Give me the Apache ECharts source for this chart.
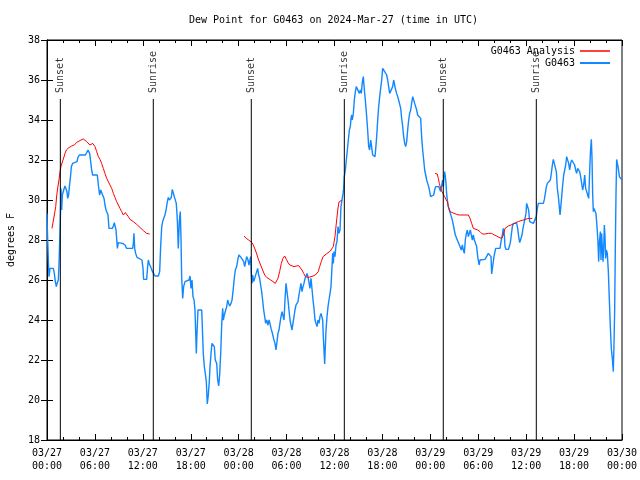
<!DOCTYPE html>
<html><head><meta charset="utf-8">
<script src="https://cdn.jsdelivr.net/npm/echarts@6/dist/echarts.min.js"></script>
<style>html,body{margin:0;padding:0;background:#fff}#c{width:640px;height:480px}</style>
</head><body><div id="c"></div>
<script>
// Hours since 2024-03-27 00:00 UTC
const obsHours = [
0.00,0.04,0.17,0.25,0.38,0.79,0.92,1.04,1.17,1.29,1.42,1.50,1.59,1.67,1.75,1.84,1.92,2.09,2.25,2.38,2.50,2.59,2.71,2.80,2.92,3.05,3.21,3.38,3.76,3.88,4.05,4.80,4.97,5.13,5.26,5.34,5.47,5.59,5.72,6.30,6.43,6.59,6.72,6.84,6.97,7.14,7.26,7.39,7.51,7.64,7.76,8.18,8.31,8.43,8.56,8.64,8.72,8.81,8.93,9.47,9.77,9.97,10.73,10.81,10.89,10.98,11.10,11.27,11.44,11.89,12.02,12.10,12.48,12.60,12.69,12.81,12.98,13.15,13.36,13.52,13.94,14.11,14.23,14.36,14.48,14.61,14.77,14.94,15.07,15.19,15.32,15.44,15.57,15.69,15.82,15.94,16.07,16.19,16.32,16.44,16.57,16.69,16.78,16.86,16.99,17.11,17.28,17.49,17.78,
17.91,18.03,18.16,18.28,18.41,18.53,18.62,18.70,18.78,18.91,19.37,19.45,19.57,19.70,19.82,19.95,20.07,20.20,20.32,20.41,20.54,20.66,20.82,20.95,21.07,21.25,21.37,21.50,21.63,21.75,21.88,22.00,22.08,22.20,22.38,22.50,22.63,22.75,22.88,23.04,23.17,23.33,23.45,23.58,23.75,23.92,
24.04,24.25,24.38,24.50,24.63,24.75,24.88,25.00,25.17,25.29,25.42,25.50,25.59,25.67,25.75,25.88,26.00,26.25,26.38,26.50,26.63,26.75,26.88,27.00,27.13,27.26,27.38,27.51,27.67,27.80,27.92,28.05,28.17,28.30,28.42,28.55,28.67,28.80,28.92,29.05,29.17,29.30,29.43,29.55,29.68,29.80,29.93,30.05,30.18,30.30,30.43,30.55,30.68,30.80,30.93,31.05,31.18,31.43,31.55,31.68,31.80,31.93,32.06,32.18,32.31,32.43,32.56,32.68,32.81,32.93,33.06,33.18,33.31,33.43,33.56,33.68,33.81,33.93,34.06,34.18,34.31,34.43,34.52,34.60,34.68,34.77,34.85,34.94,35.06,35.19,35.31,35.44,35.56,35.69,
35.77,35.85,35.94,36.06,36.19,36.31,36.44,36.56,36.69,36.81,36.94,37.07,37.15,37.23,37.36,37.48,37.61,37.73,37.86,37.98,38.07,38.15,38.23,38.36,38.48,38.61,38.73,38.86,38.98,39.11,39.24,39.36,39.49,39.61,39.74,39.86,40.03,40.15,40.28,40.40,40.53,40.65,40.78,40.90,41.07,41.15,41.28,41.41,41.53,41.66,41.78,41.91,42.03,42.16,42.28,42.41,42.53,42.66,42.78,42.91,43.16,43.28,43.41,43.53,43.66,43.78,43.91,44.03,44.16,44.29,44.41,44.54,44.66,44.79,44.91,45.04,45.16,45.29,45.41,45.54,45.66,45.79,45.91,46.04,46.16,46.29,46.41,46.54,46.66,46.79,46.91,47.04,47.17,47.29,47.42,47.54,47.67,47.79,47.92,48.04,48.17,48.29,48.42,48.54,48.67,48.79,48.92,49.04,49.17,49.29,49.42,49.54,49.63,49.71,49.79,49.88,49.96,50.04,50.13,50.25,50.38,50.50,50.63,50.75,50.88,51.00,51.13,51.26,51.38,51.51,51.63,51.76,51.88,52.01,52.13,52.26,52.38,52.51,52.63,52.76,52.88,53.01,53.13,53.26,53.38,53.51,
53.59,53.80,53.93,54.10,54.22,54.43,54.85,55.26,55.47,55.60,55.68,55.89,55.97,56.18,56.72,56.85,56.98,57.14,57.27,57.35,57.48,57.77,57.89,58.02,58.14,58.27,58.39,58.81,58.94,59.06,59.19,59.35,59.48,59.60,59.73,59.86,59.98,60.06,60.19,60.31,60.44,60.56,60.90,61.02,61.15,61.27,61.40,61.52,62.15,62.28,62.40,62.53,62.65,62.78,62.90,63.03,63.15,63.28,63.40,63.53,63.65,63.78,63.90,64.03,64.15,64.24,64.32,64.45,64.57,64.70,64.82,64.95,65.07,65.20,65.32,65.45,65.57,65.70,65.82,65.95,66.07,66.20,66.32,66.45,66.57,66.70,66.82,66.95,67.07,67.20,67.33,67.45,67.58,67.70,67.83,67.95,68.04,68.16,68.24,68.33,68.41,68.49,68.62,68.74,68.87,68.99,69.08,69.16,69.29,69.37,69.45,69.54,69.62,69.70,69.79,69.87,69.95,70.04,70.16,70.29,70.41,70.54,70.66,70.79,70.91,71.00,71.08,71.17,71.25,71.33,71.42,71.54,71.67,71.79,72.00
];
const obsValues = [
29.33,28.58,27.0,26.17,26.58,26.58,26.33,25.92,25.67,25.87,26.0,26.75,27.92,29.0,30.58,29.5,30.25,30.5,30.7,30.75,30.42,30.08,30.25,30.67,31.08,31.67,31.83,31.92,31.92,32.13,32.25,32.25,32.37,32.5,32.53,32.33,31.92,31.5,31.25,31.25,30.75,30.25,30.5,30.58,30.42,30.08,29.75,29.5,29.58,29.25,28.58,28.58,28.7,28.87,28.8,28.5,28.08,27.58,27.87,27.83,27.75,27.58,27.58,27.83,28.33,27.58,27.33,27.13,27.03,27.0,26.58,26.03,26.03,26.67,27.0,26.8,26.67,26.47,26.37,26.2,26.2,26.42,27.67,28.63,28.92,29.08,29.25,29.58,29.92,30.13,30.0,29.92,30.13,30.53,30.45,30.17,30.07,29.83,29.0,27.58,28.92,29.42,28.08,26.17,25.08,25.67,25.92,25.98,26.0,
26.2,25.58,26.0,25.17,25.0,24.5,23.33,22.33,23.33,24.5,24.5,23.67,22.33,21.67,21.33,20.92,19.8,20.25,20.92,21.67,22.33,22.83,22.92,22.67,22.0,21.83,21.0,20.7,21.33,22.33,23.83,24.58,24.0,24.25,24.5,24.67,25.0,24.83,24.7,24.83,25.0,25.58,26.08,26.5,26.67,27.08,
27.25,27.25,27.08,27.17,26.92,26.67,26.92,27.17,27.0,26.75,26.83,27.17,26.33,25.83,26.25,25.92,26.08,26.17,26.58,26.25,26.08,25.75,25.42,25.0,24.5,24.17,23.83,24.0,23.75,24.0,23.83,23.58,23.42,23.33,23.0,22.83,22.5,22.92,23.33,23.5,23.83,24.17,24.42,24.33,24.0,25.0,25.83,25.42,25.0,24.5,24.0,23.75,23.5,23.83,24.17,24.5,24.75,24.92,25.25,25.33,25.83,25.42,25.67,25.83,26.08,26.0,26.33,26.17,26.08,25.58,26.08,26.0,25.0,24.58,24.0,23.83,23.67,24.0,23.83,24.17,24.33,24.42,24.0,23.17,22.5,21.8,22.67,23.5,24.17,24.67,25.0,25.33,25.67,26.67,
27.33,26.83,27.42,27.17,27.75,27.92,28.67,28.33,28.5,29.67,30.0,30.33,30.58,31.17,31.5,32.0,32.5,33.0,33.5,33.67,34.08,34.25,34.0,34.33,35.0,35.42,35.67,35.75,35.58,35.33,35.5,35.33,35.92,36.17,35.5,35.0,34.17,33.5,32.67,32.5,33.0,32.67,32.25,32.17,32.17,32.5,33.17,34.0,34.67,35.17,35.58,36.0,36.58,36.63,36.42,36.33,36.25,36.0,35.67,35.33,35.33,35.67,36.0,35.75,35.5,35.33,35.17,35.0,34.92,34.58,34.08,33.67,33.17,32.83,32.67,32.92,33.5,34.0,34.33,34.5,34.83,35.17,35.08,34.83,34.67,34.5,34.25,34.17,34.33,34.08,33.17,32.5,32.0,31.5,31.25,31.0,30.83,30.67,30.42,30.17,30.08,30.17,30.25,30.5,30.67,30.75,30.75,30.67,30.58,30.42,30.33,31.0,30.67,31.17,31.42,31.17,30.83,30.33,30.0,29.67,29.5,29.33,29.17,29.0,28.75,28.5,28.25,28.17,28.0,27.92,27.75,27.67,27.5,27.75,27.5,27.33,28.0,28.33,28.5,28.17,28.33,28.5,28.25,28.0,28.25,28.0,
28.08,27.67,27.17,26.75,27.0,27.0,27.03,27.33,27.33,27.17,26.3,26.3,27.17,27.58,27.58,27.92,28.17,28.58,28.25,27.67,27.53,27.53,27.67,27.87,28.25,28.67,28.83,28.83,28.58,28.17,27.87,27.87,28.25,28.58,28.83,28.87,29.33,29.83,29.83,29.5,28.92,28.83,28.83,28.92,28.92,29.17,29.58,29.83,29.83,30.03,30.33,30.67,30.83,30.92,30.92,31.0,31.33,31.75,32.03,32.08,32.12,31.42,30.58,30.17,29.67,29.25,29.58,30.17,30.75,31.25,31.33,31.75,32.17,32.25,31.83,31.5,31.83,32.0,32.08,32.0,31.75,31.5,31.33,31.58,31.67,31.42,31.17,30.83,30.5,30.75,31.25,30.58,30.42,30.25,30.08,30.17,32.33,33.03,32.17,30.25,29.42,29.58,29.5,29.33,28.67,27.92,26.92,27.83,28.42,27.0,28.33,28.33,26.92,27.5,28.75,28.17,27.08,27.5,27.33,26.42,25.08,23.67,22.58,22.08,21.42,22.83,24.5,27.83,30.33,32.03,32.0,31.58,31.17,31.08,31.0
];
// Analysis: three runs, separated by null values
const anaHours = [
0.62,0.75,0.92,1.09,1.21,1.34,1.50,1.63,1.75,1.92,2.09,2.25,2.42,2.59,2.75,3.09,3.42,3.71,3.92,4.26,4.55,4.76,4.97,5.17,5.38,5.59,5.72,5.84,6.01,6.22,6.43,6.64,6.84,7.05,7.26,7.47,7.68,7.89,8.10,8.31,8.51,8.72,8.93,9.14,9.35,9.56,9.68,9.81,9.97,10.18,10.39,10.60,10.81,11.02,11.23,11.44,11.64,11.85,12.06,12.27,12.48,12.69,12.85,
18.0,
24.67,24.96,25.25,25.50,25.67,25.88,26.09,26.30,26.50,26.75,27.00,27.26,27.51,27.76,28.01,28.30,28.59,28.76,28.92,29.13,29.34,29.55,29.76,29.97,30.18,30.39,30.60,30.93,31.22,31.51,31.76,31.93,32.14,32.35,32.56,32.77,33.01,33.31,33.60,33.81,33.97,34.14,34.35,34.56,34.77,34.98,35.19,35.48,35.69,35.85,36.06,36.27,36.44,36.56,36.60,36.94,
42.0,
48.58,48.87,49.00,49.13,49.29,49.46,49.63,49.79,49.96,50.13,50.25,50.46,50.67,50.97,51.30,51.63,52.34,52.76,52.97,53.18,53.38,53.59,53.93,54.22,54.51,54.85,55.26,55.68,56.02,56.31,56.60,56.93,57.14,57.35,57.56,57.77,58.10,58.39,58.69,59.02,59.35,59.65,59.86,60.19,60.48,60.77
];
const anaValues = [
28.58,28.58,29.25,29.67,30.2,30.6,31.0,31.42,31.67,31.9,32.1,32.33,32.5,32.58,32.62,32.7,32.75,32.88,32.95,33.0,33.05,33.03,32.92,32.83,32.75,32.7,32.83,32.88,32.67,32.42,32.17,32.03,31.83,31.58,31.33,31.08,31.0,30.75,30.58,30.33,30.13,29.92,29.75,29.58,29.42,29.25,29.17,29.37,29.3,29.17,29.03,28.95,28.92,28.83,28.78,28.7,28.63,28.55,28.47,28.42,28.33,28.3,28.3,
null,
28.2,28.08,28.0,27.97,27.87,27.7,27.5,27.25,27.0,26.75,26.5,26.25,26.13,26.08,26.0,25.92,25.83,25.83,26.08,26.42,26.83,27.08,27.2,27.03,26.87,26.75,26.67,26.67,26.7,26.72,26.63,26.5,26.33,26.17,26.07,26.13,26.17,26.2,26.25,26.28,26.42,26.67,26.92,27.17,27.25,27.3,27.37,27.45,27.5,27.67,28.17,29.0,29.6,29.9,30.0,30.0,
null,
31.33,31.3,31.08,30.83,30.58,30.42,30.33,30.17,30.03,29.92,29.67,29.42,29.37,29.33,29.28,29.25,29.25,29.25,29.08,28.83,28.58,28.55,28.5,28.42,28.3,28.3,28.33,28.33,28.25,28.2,28.13,28.08,28.25,28.58,28.67,28.7,28.75,28.8,28.87,28.92,28.97,29.0,29.03,29.07,29.08,29.08
];
const sunHours = [1.67, 13.31, 25.58, 37.23, 49.62, 61.27];
const sunLabels = ['Sunset','Sunrise','Sunset','Sunrise','Sunset','Sunrise'];
const sunLineTop = 35.05;
const yMin = 18, yMax = 38, yStep = 2;
const xMin = 0, xMax = 72, xStep = 6;
const dayNames = ['03/27','03/28','03/29','03/30'];

const FONT = 'DejaVu Sans Mono';
const RED = '#ff0000', BLUE = '#1188ff';
const zip = (a, b) => a.map((h, i) => [h, b[i]]);

const chart = echarts.init(document.getElementById('c'), null, {renderer: 'canvas'});

function xLabel(v) {
  const d = Math.floor(v / 24);
  const hh = v - d * 24;
  return dayNames[d] + '\n' + String(hh).padStart(2, '0') + ':00';
}

const xCommon = {
  type: 'value', min: xMin, max: xMax, interval: xStep,
  axisLine: {show: true, lineStyle: {color: '#000', width: 1}},
  axisTick: {show: true, inside: true, length: 6, lineStyle: {color: '#000'}},
  minorTick: {show: true, splitNumber: 3, length: 3, lineStyle: {color: '#000'}},
  splitLine: {show: false}, minorSplitLine: {show: false}
};
const yCommon = {
  type: 'value', min: yMin, max: yMax, interval: yStep,
  axisLine: {show: true, lineStyle: {color: '#000', width: 1}},
  axisTick: {show: true, inside: true, length: 6, lineStyle: {color: '#000'}},
  splitLine: {show: false}
};

const series = [
  {
    name: 'G0463 Analysis', type: 'line', data: zip(anaHours, anaValues),
    symbol: 'none', connectNulls: false,
    lineStyle: {color: RED, width: 1}, itemStyle: {color: RED}, z: 3
  },
  {
    name: 'G0463', type: 'line', data: zip(obsHours, obsValues),
    symbol: 'none',
    lineStyle: {color: BLUE, width: 1.4}, itemStyle: {color: BLUE}, z: 2
  }
];
sunHours.forEach((h) => {
  series.push({
    type: 'line', data: [[h, yMin], [h, sunLineTop]], symbol: 'none', silent: true,
    lineStyle: {color: '#000', width: 1}, z: 4
  });
});
series.push({
  type: 'scatter', silent: true, symbolSize: 0, z: 5,
  data: sunHours.map((h, i) => ({value: [h, sunLineTop], name: sunLabels[i]})),
  label: {
    show: true, formatter: '{b}', rotate: 90, position: 'top', distance: 6,
    align: 'left', verticalAlign: 'middle',
    fontFamily: FONT, fontSize: 10, color: '#000'
  }
});

const legendBase = {
  right: 30, align: 'right', orient: 'vertical', icon: 'rect',
  itemWidth: 30, selectedMode: false, padding: 0,
  textStyle: {fontFamily: FONT, fontSize: 10, color: '#000'}
};

chart.setOption({
  animation: false,
  backgroundColor: '#fff',
  title: {
    text: 'Dew Point for G0463 on 2024-Mar-27 (time in UTC)',
    left: 189, top: 15, padding: 0,
    textStyle: {fontFamily: FONT, fontSize: 10, fontWeight: 'normal', color: '#000'}
  },
  legend: [
    Object.assign({}, legendBase, {data: ['G0463 Analysis'], top: 46, itemHeight: 1.5}),
    Object.assign({}, legendBase, {data: ['G0463'], top: 58, itemHeight: 2})
  ],
  grid: {left: 47, right: 18, top: 40, bottom: 40, containLabel: false, outerBoundsMode: 'none',
         show: true, borderColor: '#000', borderWidth: 1},
  xAxis: [
    Object.assign({}, xCommon, {
      position: 'bottom',
      axisLabel: {formatter: xLabel, fontFamily: FONT, fontSize: 10, color: '#000', lineHeight: 13, margin: 7}
    }),
    Object.assign({}, xCommon, {position: 'top', axisLabel: {show: false}})
  ],
  yAxis: [
    Object.assign({}, yCommon, {
      position: 'left',
      name: 'degrees F', nameLocation: 'middle', nameGap: 31, nameRotate: 90,
      nameTextStyle: {fontFamily: FONT, fontSize: 10, color: '#000'},
      axisLabel: {fontFamily: FONT, fontSize: 10, color: '#000', margin: 7}
    }),
    Object.assign({}, yCommon, {position: 'right', axisLabel: {show: false}})
  ],
  series: series
});
</script>
</body></html>
